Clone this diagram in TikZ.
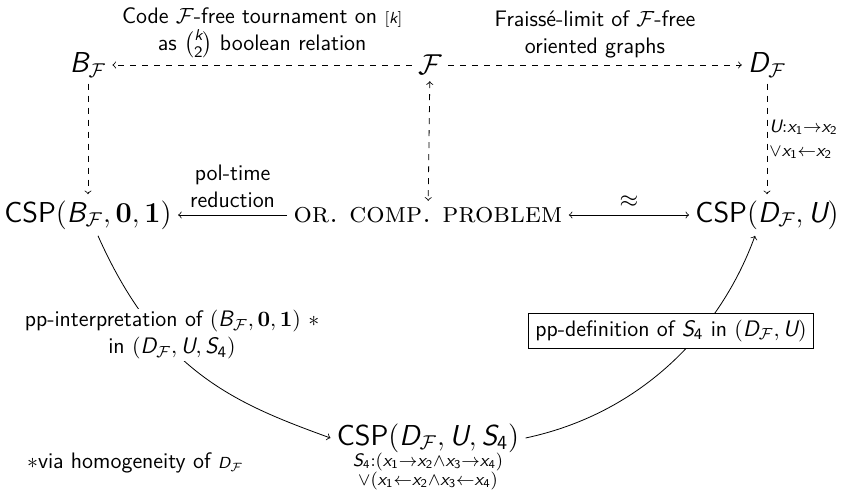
\documentclass[tikz,border=0pt]{standalone}
\usepackage{amsmath}
\DeclareMathAlphabet{\mathsfit}{TU}{lmss}{m}{sl}
\newcommand{\BF}{\mathsfit{B}_{\mathcal{F}}}
\newcommand{\DF}{\mathsfit{D}_{\mathcal{F}}}
\newcommand{\xx}[1]{\mathsfit{x}_{\mathsf{#1}}}
\newcommand{\SF}{\mathsfit{S}_{\mathsf{4}}}
\newcommand{\smallfnt}{\fontsize{8}{9}\selectfont}
\begin{document}
\begin{tikzpicture}[x=0.5pt,y=0.5pt,font=\sffamily,>=to,
  big/.style={font=\Large\sffamily,inner sep=3pt},
  lab/.style={font=\fontsize{11.2}{13.5}\selectfont\sffamily,align=center},
  small/.style={font=\fontsize{9}{11}\selectfont\sffamily,inner sep=1pt},
  dasharrow/.style={->,dashed}]
\useasboundingbox (0,0) rectangle (854,497);
\node[big] (BF) at (88,432) {$\BF$};
\node[big] (F) at (430,432) {$\mathcal{F}$};
\node[big] (DF) at (767,432) {$\DF$};
\node[big] (csb) at (88,282) {CSP$(\BF,\mathbf{0},\mathbf{1})$};
\node[font=\Large\rmfamily,inner sep=3pt] (or) at (428,282) {\textsc{or.\ comp.\ problem}};
\node[big] (cdu) at (767,282) {CSP$(\DF,\mathsfit{U})$};
\node[big] (csd) at (428,59) {CSP$(\DF,\mathsfit{U},\SF)$};
\node[small,font=\fontsize{9}{9.6}\selectfont\sffamily,align=center,anchor=north,inner sep=0pt] (s4) at ([yshift=3pt]csd.south) {$\SF{:}(\xx1{\to}\xx2{\wedge}\xx3{\to}\xx4)$\\$\vee(\xx1{\leftarrow}\xx2{\wedge}\xx3{\leftarrow}\xx4)$};
\draw[dasharrow] (F) -- node[lab,above] {Code $\mathcal{F}$-free tournament on {\smallfnt$[\mathsfit{k}]$}\\as $\binom{\mathsfit{k}}{\mathsf{2}}$ boolean relation} (BF);
\draw[dasharrow] (F) -- node[lab,above] {Fraiss\'e-limit of $\mathcal{F}$-free\\oriented graphs} (DF);
\draw[dasharrow] (BF) -- (csb);
\draw[dasharrow,<->] (F) -- (or);
\draw[dasharrow] (DF) -- node[small,right,align=left,font=\fontsize{9}{12}\selectfont\sffamily] {$\mathsfit{U}{:}\xx1{\to}\xx2$\\$\vee\xx1{\leftarrow}\xx2$} (cdu);
\draw[->] (or) -- node[lab,above] {pol-time\\reduction} (csb);
\draw[<->] (or) -- node[above,font=\large] {$\approx$} (cdu);
\draw[->] ([xshift=5pt]csb.south) .. controls +(-66:150) and +(160:100) .. (csd.west);
\node[lab,fill=white,inner sep=1pt] (ppi) at (172,162) {pp-interpretation of $(\BF,\mathbf{0},\mathbf{1})$ $\ast$\\in $(\DF,\mathsfit{U},\SF)$};
\draw[->] (csd.east) .. controls +(12:120) and +(250:100) .. ([xshift=-6pt]cdu.south);
\node[lab,draw,fill=white] (ppd) at (671,166) {pp-definition of $\SF$ in $(\DF,\mathsfit{U})$};
\node[lab,anchor=west] (note) at (20,34) {$\ast$via homogeneity of {\smallfnt$\DF$}};
\end{tikzpicture}
\end{document}
